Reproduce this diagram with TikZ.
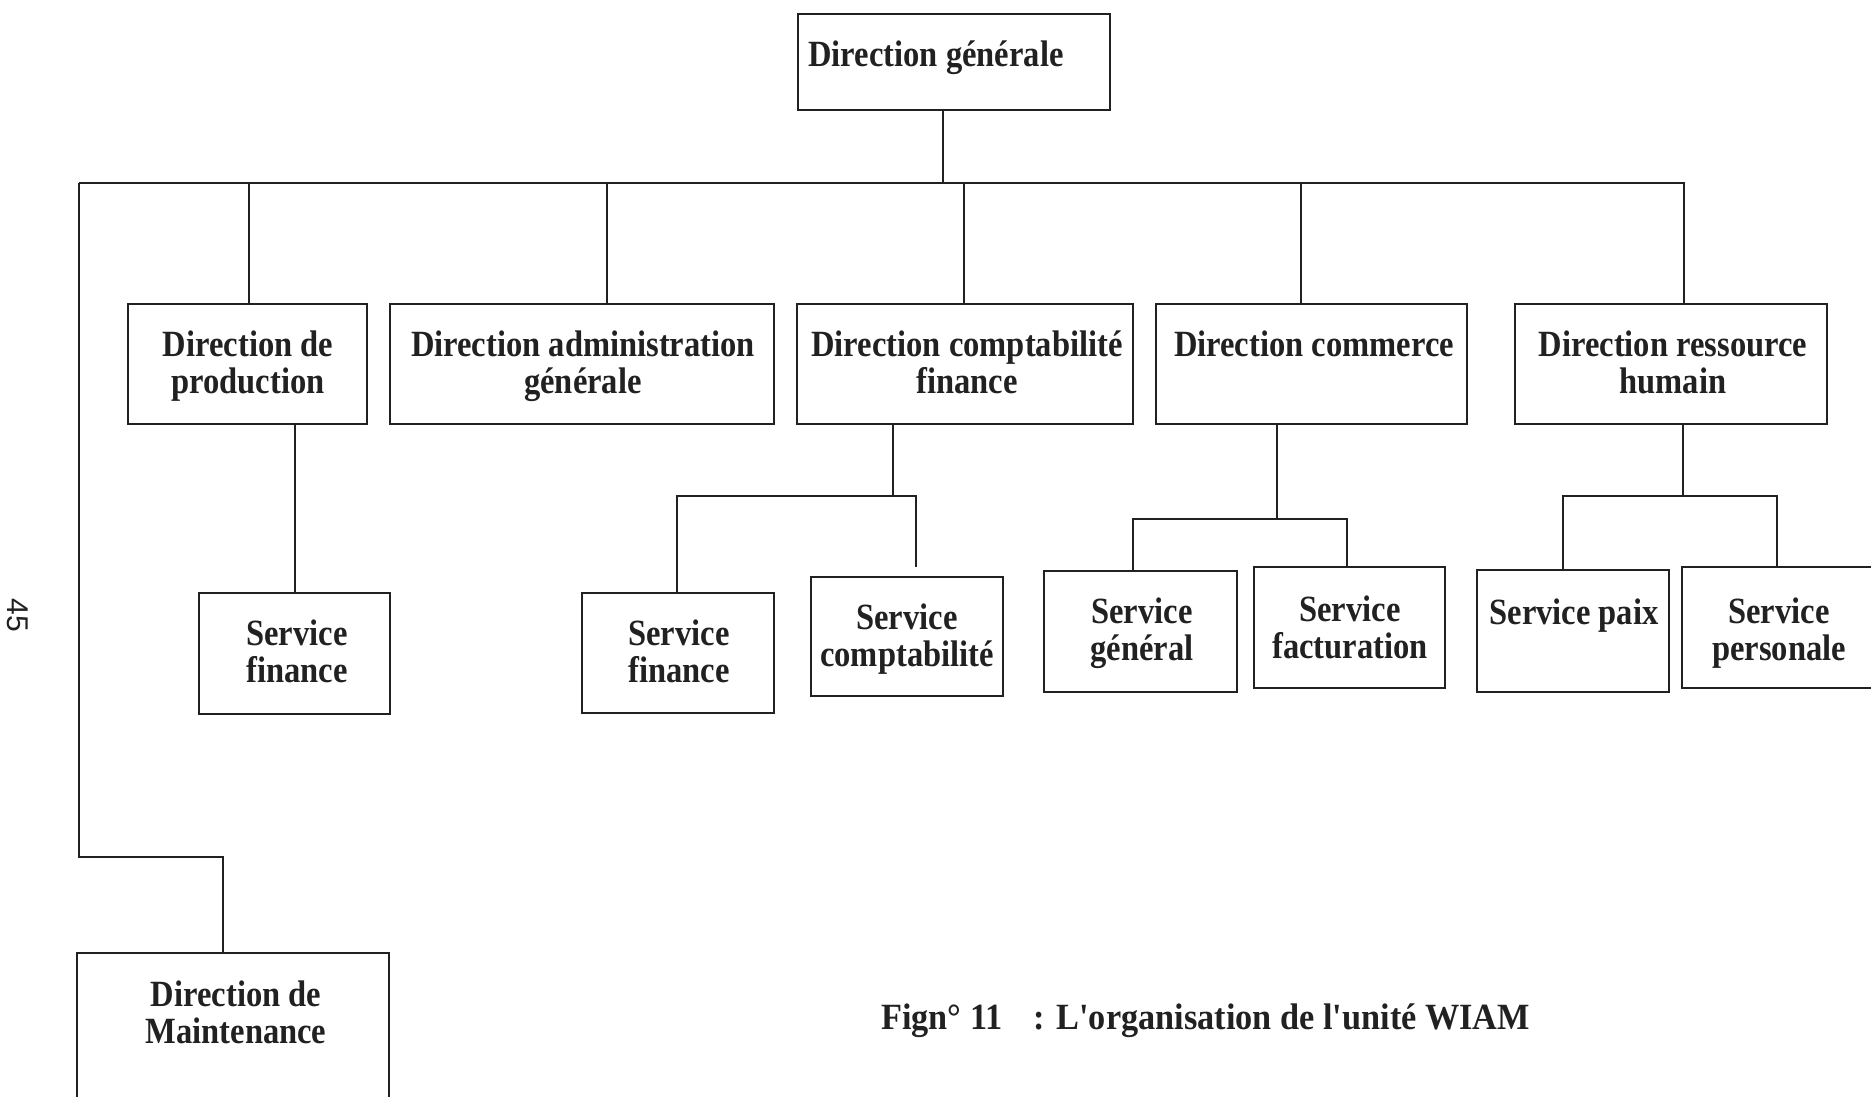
\documentclass[tikz,border=0pt]{standalone}
\usepackage{fontspec}
\newfontfamily\orgfont{Liberation Serif}[FakeStretch=0.88]
\newfontfamily\capfont{Liberation Serif}[FakeStretch=0.927]
\newfontfamily\pagefont{Liberation Sans}
\newcommand{\twolines}[2]{\begin{tabular}[t]{@{}c@{}}#1\\#2\end{tabular}}
\definecolor{ink}{gray}{0.13}
\tikzset{
  box/.style={draw=ink, line width=2pt, inner sep=0pt, fill=none},
  txt/.style={anchor=base, inner sep=0pt, text=ink,
    font=\orgfont\bfseries\fontsize{37}{37.5}\selectfont},
  captxt/.style={anchor=base west, inner sep=0pt, text=ink,
    font=\capfont\bfseries\fontsize{37}{37.5}\selectfont},
  wire/.style={draw=ink, line width=2pt}
}
\begin{document}
\begin{tikzpicture}[x=1pt, y=-1pt]
\useasboundingbox (0,0) rectangle (1871,1096);
\clip (0,0) rectangle (1871,1096);

% page number in the margin
\node[rotate=-90, font=\pagefont\fontsize{30}{30}\selectfont, text=ink, inner sep=0pt] (pg) at (18,615) {45};

% boxes
\node[box, minimum width=312, minimum height=96] (dg) at (954,62) {};
\node[box, minimum width=239, minimum height=120] (prod) at (247.5,364) {};
\node[box, minimum width=384, minimum height=120] (adm) at (582,364) {};
\node[box, minimum width=336, minimum height=120] (cpt) at (965,364) {};
\node[box, minimum width=311, minimum height=120] (com) at (1311.5,364) {};
\node[box, minimum width=312, minimum height=120] (rh) at (1671,364) {};
\node[box, minimum width=191, minimum height=121] (sf1) at (294.5,653.5) {};
\node[box, minimum width=192, minimum height=120] (sf2) at (678,653) {};
\node[box, minimum width=192, minimum height=119] (sc) at (907,636.5) {};
\node[box, minimum width=193, minimum height=121] (sg) at (1140.5,631.5) {};
\node[box, minimum width=191, minimum height=121] (sfact) at (1349.5,627.5) {};
\node[box, minimum width=192, minimum height=122] (paix) at (1573,631) {};
\node[box, minimum width=194, minimum height=121] (pers) at (1779,627.5) {};
\node[box, minimum width=312, minimum height=157] (maint) at (233,1031.5) {};

% box labels
\node[txt] (dg-t) at (936,66) {Direction générale};
\node[txt] (prod-t) at (248,356) {\twolines{Direction de}{production}};
\node[txt] (adm-t) at (583,356) {\twolines{Direction administration}{générale}};
\node[txt] (cpt-t) at (967,356) {\twolines{Direction comptabilité}{finance}};
\node[txt] (com-t) at (1314,356) {Direction commerce};
\node[txt] (rh-t) at (1673,356) {\twolines{Direction ressource}{humain}};
\node[txt] (sf1-t) at (297,645) {\twolines{Service}{finance}};
\node[txt] (sf2-t) at (679,645) {\twolines{Service}{finance}};
\node[txt] (sc-t) at (907,629) {\twolines{Service}{comptabilité}};
\node[txt] (sg-t) at (1142,623) {\twolines{Service}{général}};
\node[txt] (sfact-t) at (1350,621) {\twolines{Service}{facturation}};
\node[txt] (paix-t) at (1574,624) {Service paix};
\node[txt] (pers-t) at (1779,623) {\twolines{Service}{personale}};
\node[txt] (maint-t) at (236,1006) {\twolines{Direction de}{Maintenance}};

% caption
\node[captxt] (cap) at (881,1029) {Fign° 11\hspace{31pt}: L'organisation de l'unité WIAM};

% main bus and its drops
\coordinate (busL) at (79,183);
\coordinate (busR) at (1684,183);
\coordinate (jdg) at (943,183);
\coordinate (jprod) at (249,183);
\coordinate (jadm) at (607,183);
\coordinate (jcpt) at (964,183);
\coordinate (jcom) at (1301,183);
\coordinate (elbow) at (223,857);

\draw[wire] (jdg |- dg.south) -- (jdg);
\draw[wire] (busL) -- (busR) -- (busR |- rh.north);
\draw[wire] (jprod) -- (jprod |- prod.north);
\draw[wire] (jadm) -- (jadm |- adm.north);
\draw[wire] (jcpt) -- (jcpt |- cpt.north);
\draw[wire] (jcom) -- (jcom |- com.north);
\draw[wire] (busL) |- (elbow) -- (elbow |- maint.north);

% production branch
\draw[wire] (sf1.north) -- (sf1.north |- prod.south);

% accounting branch
\coordinate (cj) at (893,496);
\coordinate (cl) at (677,496);
\coordinate (cr) at (916,496);
\coordinate (crEnd) at (916,567);
\draw[wire] (cj |- cpt.south) -- (cj);
\draw[wire] (cl |- sf2.north) -- (cl) -- (cr) -- (crEnd);

% commerce branch
\coordinate (mj) at (1277,519);
\coordinate (ml) at (1133,519);
\coordinate (mr) at (1347,519);
\draw[wire] (mj |- com.south) -- (mj);
\draw[wire] (ml |- sg.north) -- (ml) -- (mr) -- (mr |- sfact.north);

% human resources branch
\coordinate (hj) at (1683,496);
\coordinate (hl) at (1563,496);
\coordinate (hr) at (1777,496);
\draw[wire] (hj |- rh.south) -- (hj);
\draw[wire] (hl |- paix.north) -- (hl) -- (hr) -- (hr |- pers.north);
\end{tikzpicture}
\end{document}
